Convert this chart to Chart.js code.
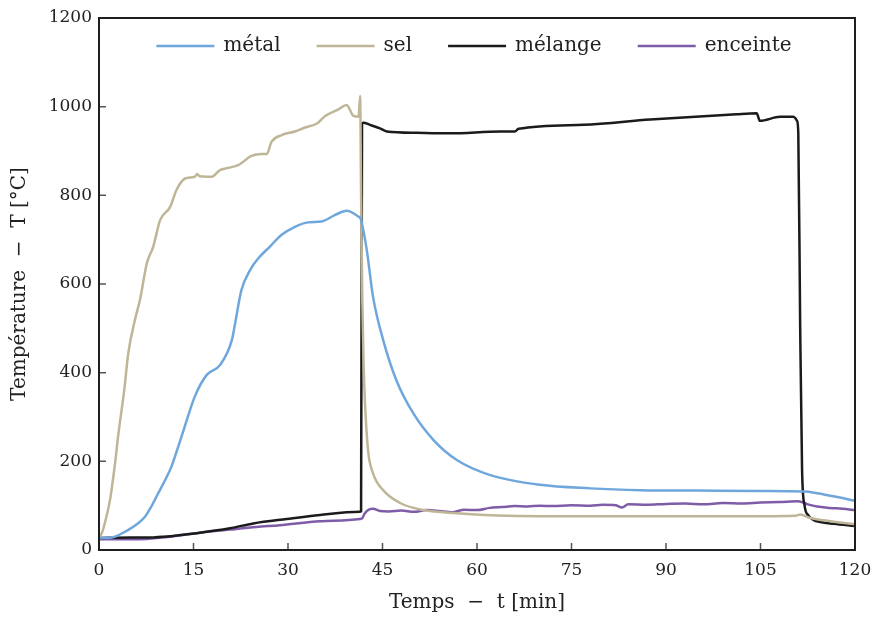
<!DOCTYPE html>
<html>
<head>
<meta charset="utf-8">
<script src="https://cdn.jsdelivr.net/npm/chart.js@4"></script>
<style>
body{margin:0;background:#fff;}
#wrap{width:874px;height:618px;}
</style>
</head>
<body>
<div id="wrap"><canvas id="temp"></canvas></div>
<script>

const xTicks=[0,15,30,45,60,75,90,105,120];
const yTicks=[0,200,400,600,800,1000,1200];

const labels=["métal","sel","mélange","enceinte"];

const metalTime=[0,1,2.5,4.6,6,7.3,8.3,9.4,10.5,11.5,12.5,13.6,15.2,17.1,19.2,21.1,21.6,22.6,24,25.3,27.1,29,31.1,33.2,35.3,37.5,39.3,41.2,41.5,42.5,43.5,45.1,47.2,49.9,53.1,56.8,62.1,70,78,86,95,105,112,114,117,120];
const metalTemp=[27,27,30,45,58,75,98,128,158,188,230,278,346,395,417,474,511,586,632,658,684,711,729,739,741,756,765,752,748,677,571,474,383,308,248,203,169,147,139,135,134,133,132,128,120,111];

const selTime=[0,0.5,1,1.75,2.5,3.1,4,4.65,5.7,6.5,7.6,8.6,9.7,11.3,12.3,13.65,15.2,15.6,16,17.9,19.2,20.5,22.1,24.2,25.8,26.6,27.4,29,31.1,32.7,34.6,35.9,38,39.3,40.4,41.2,41.45,41.6,41.8,42,42.2,42.7,43.5,45.1,47.8,51.5,56.8,64.7,75,90,105,110.5,111.3,112.5,115,120];
const selTemp=[27,40,65,113,190,264,360,444,519,564,647,684,744,774,812,838,842,848,843,842,857,862,868,889,893,893,921,936,944,953,962,979,994,1004,979,977,1024,800,560,420,338,226,173,135,106,90,83,77,76,76,76,77,80,74,67,58];

const melTime=[0,5,7.6,10.2,15.5,20.8,24.5,29.8,35.1,41.4,41.6,41.75,41.95,43,44.6,45.7,50.4,55.7,63.7,66,66.6,76.9,87.5,101.2,104.4,104.9,108.1,110.2,110.8,111,111.3,111.6,112,112.6,113.4,114.5,116.6,120];
const melTemp=[27,28,28,30,38,49,60,70,79,86,87,962,964,959,951,944,941,940,944,944,950,959,971,983,985,968,977,977,968,940,500,180,100,78,68,63,59,54];

const encTime=[0,5,7.6,10,15.5,20.8,25,28.7,35.1,41.4,41.8,42.2,43,43.5,44.6,46,48,50,52,54,56,58,60,62,64,66,68,70,72,75,78,80,82,83,84,87,90,93,96,99,102,105,108,111,112.5,114,116,118,120];
const encTemp=[24,24,25,28,38,46,52,56,65,70,72,83,92,93,88,87,89,86,90,88,85,91,90,95,97,99,98,100,99,101,100,102,101,96,103,102,104,105,103,106,105,107,108,110,103,98,95,93,90];

const colors=["#6fa7dc","#bfb698","#1b1b1b","#7e5ca7"];

function pts(t,v){
return t.map((x,i)=>({x:x,y:v[i]}));
}

const series=[pts(metalTime,metalTemp),pts(selTime,selTemp),pts(melTime,melTemp),pts(encTime,encTemp)];

const serif="'DejaVu Serif', serif";

// frame, inward ticks and legend inside the plot
const decor={
id:'decor',
afterDraw(chart){
const ctx=chart.ctx;
const a=chart.chartArea;
const xs=chart.scales.x, ys=chart.scales.y;
ctx.save();
ctx.strokeStyle="#555";
ctx.lineWidth=1.5;
ctx.beginPath();
xTicks.slice(1,-1).forEach(v=>{
const px=xs.getPixelForValue(v);
ctx.moveTo(px,a.bottom);ctx.lineTo(px,a.bottom-7);
});
yTicks.slice(1,-1).forEach(v=>{
const py=ys.getPixelForValue(v);
ctx.moveTo(a.left,py);ctx.lineTo(a.left+7,py);
});
ctx.stroke();
ctx.strokeStyle="#1e1e1e";
ctx.lineWidth=2;
ctx.strokeRect(a.left,a.top,a.right-a.left,a.bottom-a.top);

// legend
ctx.font="20px "+serif;
const lineLen=58,gap=9,space=36;
let total=0;
labels.forEach((l,i)=>{
total+=lineLen+gap+ctx.measureText(l).width+(i<labels.length-1?space:0);
});
let x=(a.left+a.right)/2-total/2-3;
const y=a.top+28;
ctx.textBaseline="middle";
ctx.fillStyle="#222";
labels.forEach((l,i)=>{
ctx.strokeStyle=colors[i];
ctx.lineWidth=2.5;
ctx.beginPath();
ctx.moveTo(x,y);ctx.lineTo(x+lineLen,y);
ctx.stroke();
x+=lineLen+gap;
ctx.fillText(l,x,y);
x+=ctx.measureText(l).width+space;
});
ctx.restore();
}
};

new Chart(document.getElementById("temp"),{
type:'line',
data:{
datasets:labels.map((l,i)=>({
label:l,
data:series[i],
borderColor:colors[i],
backgroundColor:colors[i],
borderWidth:2.5,
pointRadius:0,
cubicInterpolationMode:'monotone'
}))
},
options:{
responsive:true,
maintainAspectRatio:false,
animation:false,
layout:{padding:{top:18,right:19,left:0,bottom:0}},
plugins:{legend:{display:false},tooltip:{enabled:false}},
scales:{
x:{
type:'linear',
min:0,max:120,
afterBuildTicks(s){s.ticks=xTicks.map(v=>({value:v}));},
afterFit(s){s.height=68;s.paddingLeft=0;s.paddingRight=0;},
grid:{display:false,drawTicks:false},
border:{display:false},
ticks:{padding:10,color:"#222",font:{family:serif,size:17},callback:v=>String(v)},
title:{display:true,text:"Temps  −  t [min]",color:"#222",font:{family:serif,size:20},padding:{top:0,bottom:3}}
},
y:{
min:0,max:1200,
afterBuildTicks(s){s.ticks=yTicks.map(v=>({value:v}));},
afterFit(s){s.width=99;s.paddingTop=0;s.paddingBottom=0;},
grid:{display:false,drawTicks:false},
border:{display:false},
ticks:{padding:7,color:"#222",font:{family:serif,size:17},callback:v=>String(v)},
title:{display:true,text:"Température  −  T [°C]",color:"#222",font:{family:serif,size:20},padding:{top:8,bottom:0}}
}
}
},
plugins:[decor]
});

</script>
</body>
</html>
